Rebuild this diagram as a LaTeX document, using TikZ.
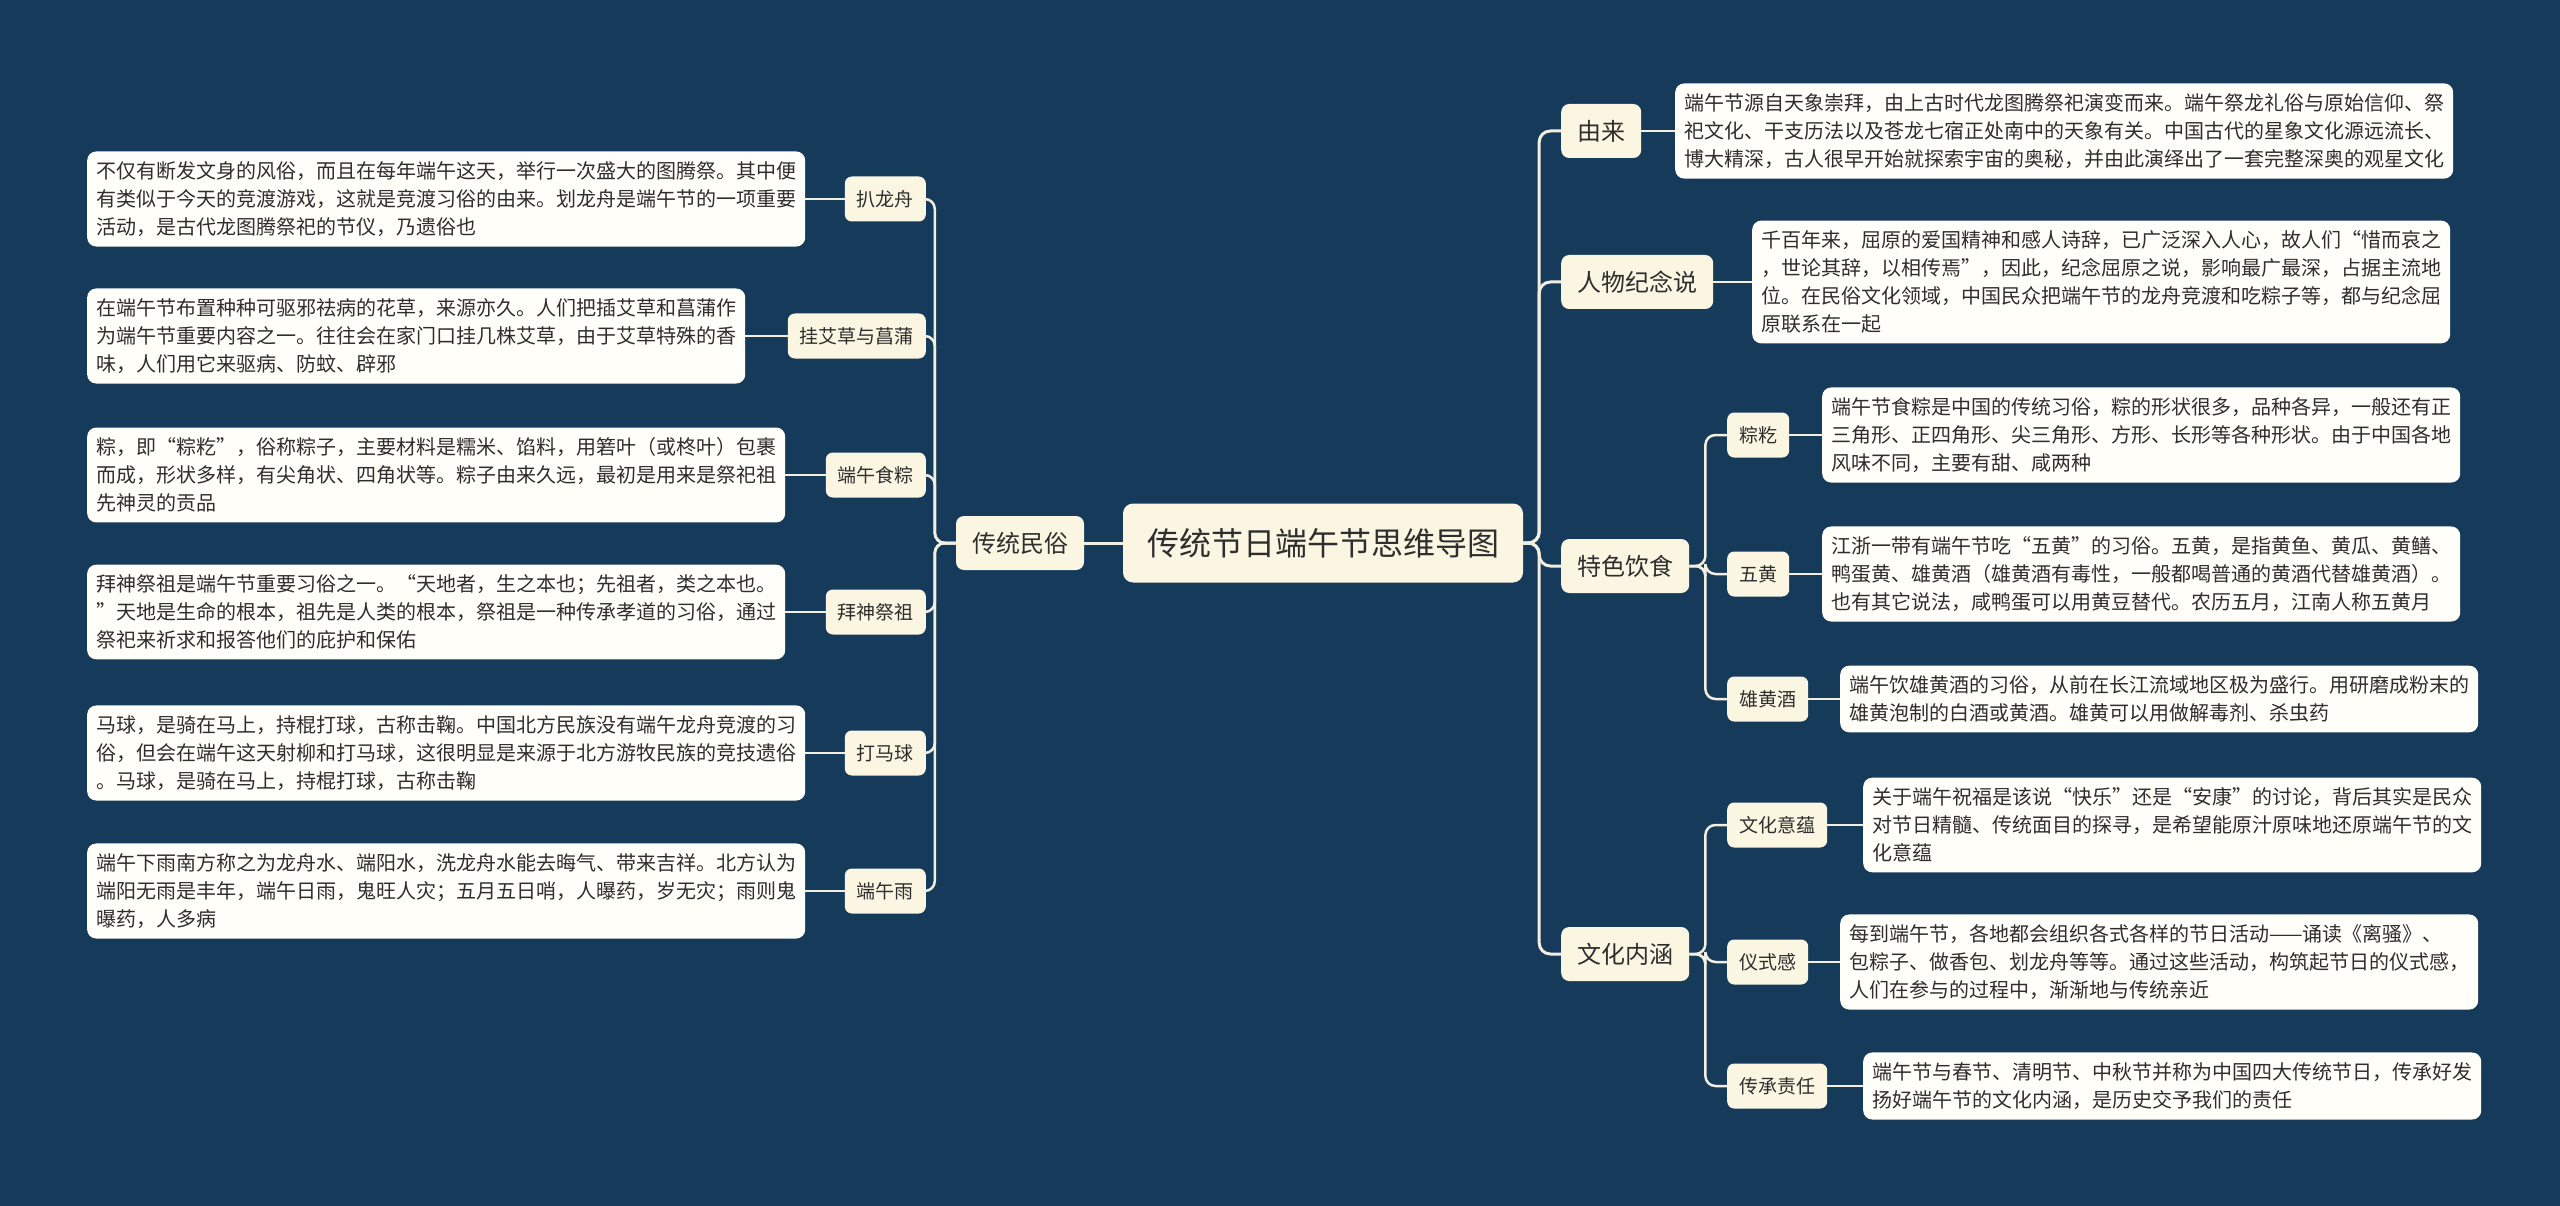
\documentclass[tikz,border=0pt]{standalone}
\usepackage{fontspec}
\setmainfont{Noto Sans CJK SC}
\definecolor{bg}{HTML}{163A59}
\definecolor{nodefill}{HTML}{FBF6E2}
\definecolor{leaffill}{HTML}{FFFEF8}
\definecolor{linecol}{HTML}{F3EFE0}
\definecolor{txt}{HTML}{2E2E2E}
\begin{document}
\begin{tikzpicture}[x=1pt,y=-1pt,
  every node/.style={text=txt},
  leaf/.style={fill=leaffill, rounded corners=9pt, inner xsep=9pt, inner ysep=10pt, align=left, font=\fontsize{20}{28}\selectfont},
  sub/.style={fill=nodefill, rounded corners=7pt, inner xsep=12pt, inner ysep=4pt, minimum height=45pt, font=\fontsize{19}{24}\selectfont},
  mainn/.style={fill=nodefill, rounded corners=8pt, inner xsep=16pt, inner ysep=4pt, minimum height=54pt, font=\fontsize{24}{30}\selectfont},
  root/.style={fill=nodefill, rounded corners=10pt, inner xsep=24pt, minimum height=79pt, font=\fontsize{32}{38}\selectfont},
  link/.style={draw=linecol, line width=3pt, rounded corners=11pt},
  sublink/.style={draw=linecol, line width=2.5pt, rounded corners=10pt}]
\useasboundingbox (0,0) rectangle (2560,1206);
\fill[bg] (0,0) rectangle (2560,1206);

% root
\node[root] (root) at (1323,543) {传统节日端午节思维导图};

% left branch
\node[mainn] (tm) at (1020,543) {传统民俗};
\node[sub, anchor=east] (l1) at (926,199) {扒龙舟};
\node[sub, anchor=east] (l2) at (926,336) {挂艾草与菖蒲};
\node[sub, anchor=east] (l3) at (926,475) {端午食粽};
\node[sub, anchor=east] (l4) at (926,612) {拜神祭祖};
\node[sub, anchor=east] (l5) at (926,753) {打马球};
\node[sub, anchor=east] (l6) at (926,891) {端午雨};

\node[leaf, anchor=west] (ll1) at (87,199) {不仅有断发文身的风俗，而且在每年端午这天，举行一次盛大的图腾祭。其中便\\有类似于今天的竞渡游戏，这就是竞渡习俗的由来。划龙舟是端午节的一项重要\\活动，是古代龙图腾祭祀的节仪，乃遗俗也};
\node[leaf, anchor=west] (ll2) at (87,336) {在端午节布置种种可驱邪祛病的花草，来源亦久。人们把插艾草和菖蒲作\\为端午节重要内容之一。往往会在家门口挂几株艾草，由于艾草特殊的香\\味，人们用它来驱病、防蚊、辟邪};
\node[leaf, anchor=west] (ll3) at (87,475) {粽，即“粽籺”，俗称粽子，主要材料是糯米、馅料，用箬叶（或柊叶）包裹\\而成，形状多样，有尖角状、四角状等。粽子由来久远，最初是用来是祭祀祖\\先神灵的贡品};
\node[leaf, anchor=west] (ll4) at (87,612) {拜神祭祖是端午节重要习俗之一。“天地者，生之本也；先祖者，类之本也。\\”天地是生命的根本，祖先是人类的根本，祭祖是一种传承孝道的习俗，通过\\祭祀来祈求和报答他们的庇护和保佑};
\node[leaf, anchor=west] (ll5) at (87,753) {马球，是骑在马上，持棍打球，古称击鞠。中国北方民族没有端午龙舟竞渡的习\\俗，但会在端午这天射柳和打马球，这很明显是来源于北方游牧民族的竞技遗俗\\。马球，是骑在马上，持棍打球，古称击鞠};
\node[leaf, anchor=west] (ll6) at (87,891) {端午下雨南方称之为龙舟水、端阳水，洗龙舟水能去晦气、带来吉祥。北方认为\\端阳无雨是丰年，端午日雨，鬼旺人灾；五月五日哨，人曝药，岁无灾；雨则鬼\\曝药，人多病};

% right branch
\node[mainn, anchor=west] (r1) at (1561,131) {由来};
\node[mainn, anchor=west] (r2) at (1561,282) {人物纪念说};
\node[mainn, anchor=west] (r3) at (1561,566) {特色饮食};
\node[mainn, anchor=west] (r4) at (1561,954) {文化内涵};

\node[leaf, anchor=west] (rl1) at (1675,131) {端午节源自天象崇拜，由上古时代龙图腾祭祀演变而来。端午祭龙礼俗与原始信仰、祭\\祀文化、干支历法以及苍龙七宿正处南中的天象有关。中国古代的星象文化源远流长、\\博大精深，古人很早开始就探索宇宙的奥秘，并由此演绎出了一套完整深奥的观星文化};
\node[leaf, anchor=west] (rl2) at (1752,282) {千百年来，屈原的爱国精神和感人诗辞，已广泛深入人心，故人们“惜而哀之\\，世论其辞，以相传焉”，因此，纪念屈原之说，影响最广最深，占据主流地\\位。在民俗文化领域，中国民众把端午节的龙舟竞渡和吃粽子等，都与纪念屈\\原联系在一起};

\node[sub, anchor=west] (s1) at (1727,435) {粽籺};
\node[sub, anchor=west] (s2) at (1727,574) {五黄};
\node[sub, anchor=west] (s3) at (1727,699) {雄黄酒};
\node[sub, anchor=west] (s4) at (1727,825) {文化意蕴};
\node[sub, anchor=west] (s5) at (1727,962) {仪式感};
\node[sub, anchor=west] (s6) at (1727,1086) {传承责任};

\node[leaf, anchor=west] (sl1) at (1822,435) {端午节食粽是中国的传统习俗，粽的形状很多，品种各异，一般还有正\\三角形、正四角形、尖三角形、方形、长形等各种形状。由于中国各地\\风味不同，主要有甜、咸两种};
\node[leaf, anchor=west] (sl2) at (1822,574) {江浙一带有端午节吃“五黄”的习俗。五黄，是指黄鱼、黄瓜、黄鳝、\\鸭蛋黄、雄黄酒（雄黄酒有毒性，一般都喝普通的黄酒代替雄黄酒）。\\也有其它说法，咸鸭蛋可以用黄豆替代。农历五月，江南人称五黄月};
\node[leaf, anchor=west] (sl3) at (1840,699) {端午饮雄黄酒的习俗，从前在长江流域地区极为盛行。用研磨成粉末的\\雄黄泡制的白酒或黄酒。雄黄可以用做解毒剂、杀虫药};
\node[leaf, anchor=west] (sl4) at (1863,825) {关于端午祝福是该说“快乐”还是“安康”的讨论，背后其实是民众\\对节日精髓、传统面目的探寻，是希望能原汁原味地还原端午节的文\\化意蕴};
\node[leaf, anchor=west] (sl5) at (1840,962) {每到端午节，各地都会组织各式各样的节日活动——诵读《离骚》、\\包粽子、做香包、划龙舟等等。通过这些活动，构筑起节日的仪式感，\\人们在参与的过程中，渐渐地与传统亲近};
\node[leaf, anchor=west] (sl6) at (1863,1086) {端午节与春节、清明节、中秋节并称为中国四大传统节日，传承好发\\扬好端午节的文化内涵，是历史交予我们的责任};

% connectors
\draw[link] (root.west) -- (tm.east);
\foreach \n in {r1,r2,r3,r4} \draw[link] (root.east) -- ++(16,0) |- (\n.west);
\foreach \n in {l1,l2,l3,l4,l5,l6} \draw[sublink] (tm.west) -- ++(-21,0) |- (\n.east);
\foreach \n in {s1,s2,s3} \draw[sublink] (r3.east) -- ++(16,0) |- (\n.west);
\foreach \n in {s4,s5,s6} \draw[sublink] (r4.east) -- ++(16,0) |- (\n.west);
\foreach \a/\b in {l1/ll1,l2/ll2,l3/ll3,l4/ll4,l5/ll5,l6/ll6} \draw[sublink] (\a.west) -- (\a.west -| \b.east);
\foreach \a/\b in {r1/rl1,r2/rl2,s1/sl1,s2/sl2,s3/sl3,s4/sl4,s5/sl5,s6/sl6} \draw[sublink] (\a.east) -- (\a.east -| \b.west);
\end{tikzpicture}
\end{document}
